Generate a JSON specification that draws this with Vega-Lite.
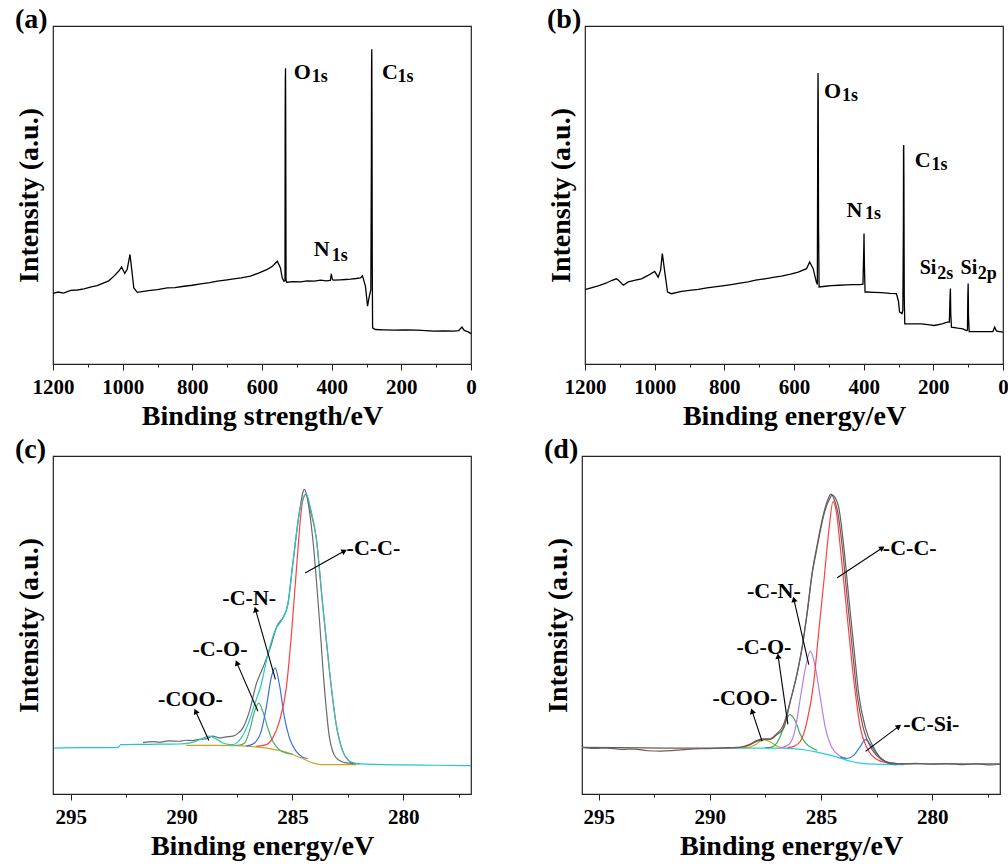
{
  "$schema": "https://vega.github.io/schema/vega-lite/v6.json",
  "background": "white",
  "padding": {"left": 14, "top": 5, "right": 2, "bottom": 2},
  "config": {
    "font": "Liberation Serif",
    "view": {"stroke": "#222", "strokeWidth": 1.2},
    "style": {
      "guide-label": {"font": "Liberation Serif", "fontWeight": "bold"},
      "guide-title": {"font": "Liberation Serif", "fontWeight": "bold"},
      "group-title": {"font": "Liberation Serif", "fontWeight": "bold"}
    },
    "axis": {
      "grid": false, "domain": false,
      "labelFont": "Liberation Serif", "labelFontWeight": "bold", "labelFontSize": 21, "labelColor": "black",
      "titleFont": "Liberation Serif", "titleFontWeight": "bold", "titleFontSize": 28, "titleColor": "black",
      "tickColor": "#222", "tickWidth": 1, "labelFlush": false, "labelOverlap": false, "labelPadding": 6, "titlePadding": 5
    },
    "title": {"font": "Liberation Serif", "fontWeight": "bold", "fontSize": 28, "anchor": "start", "frame": "bounds", "color": "black", "offset": -8}
  },
  "datasets": {
    "surveyA": [
      {"eV": 1200, "i": 20.9}, {"eV": 1185, "i": 21.3}, {"eV": 1170, "i": 21.0}, {"eV": 1149, "i": 21.8}, {"eV": 1130, "i": 21.9},
      {"eV": 1111, "i": 22.2}, {"eV": 1090, "i": 22.8}, {"eV": 1073, "i": 23.2}, {"eV": 1054, "i": 24.0}, {"eV": 1040, "i": 24.6},
      {"eV": 1025, "i": 26.0}, {"eV": 1011, "i": 27.5}, {"eV": 1003, "i": 28.7}, {"eV": 994, "i": 26.8}, {"eV": 987, "i": 28.0},
      {"eV": 979, "i": 32.4}, {"eV": 974, "i": 28.0}, {"eV": 968, "i": 22.5}, {"eV": 958, "i": 21.2}, {"eV": 940, "i": 21.5},
      {"eV": 920, "i": 21.8}, {"eV": 900, "i": 22.0}, {"eV": 872, "i": 22.5}, {"eV": 850, "i": 22.6}, {"eV": 824, "i": 23.0},
      {"eV": 800, "i": 23.3}, {"eV": 776, "i": 23.7}, {"eV": 750, "i": 24.1}, {"eV": 728, "i": 24.5}, {"eV": 700, "i": 24.9},
      {"eV": 681, "i": 25.2}, {"eV": 660, "i": 25.5}, {"eV": 633, "i": 26.0}, {"eV": 610, "i": 26.9}, {"eV": 585, "i": 28.0},
      {"eV": 570, "i": 28.9}, {"eV": 556, "i": 30.4}, {"eV": 547, "i": 28.4}, {"eV": 542, "i": 25.5}, {"eV": 537, "i": 24.5},
      {"eV": 534, "i": 24.6}, {"eV": 533.5, "i": 70}, {"eV": 533, "i": 84}, {"eV": 532.5, "i": 87.5}, {"eV": 532, "i": 75},
      {"eV": 531, "i": 24.8}, {"eV": 529, "i": 24.2}, {"eV": 510, "i": 24.4}, {"eV": 489, "i": 24.3}, {"eV": 470, "i": 24.6},
      {"eV": 450, "i": 24.5}, {"eV": 432, "i": 24.8}, {"eV": 415, "i": 24.6}, {"eV": 404, "i": 24.7}, {"eV": 401, "i": 26.7},
      {"eV": 398, "i": 25.0}, {"eV": 395, "i": 24.8}, {"eV": 375, "i": 24.9}, {"eV": 360, "i": 25.0}, {"eV": 346, "i": 25.1},
      {"eV": 330, "i": 25.3}, {"eV": 317, "i": 25.5}, {"eV": 312, "i": 26.1}, {"eV": 309, "i": 25.2}, {"eV": 303, "i": 23.0},
      {"eV": 297, "i": 17.1}, {"eV": 292, "i": 20.0}, {"eV": 287.5, "i": 22}, {"eV": 286, "i": 60}, {"eV": 285.5, "i": 86.7},
      {"eV": 284.8, "i": 93.1}, {"eV": 284.2, "i": 70}, {"eV": 283.5, "i": 30}, {"eV": 282.5, "i": 10.7}, {"eV": 275, "i": 10.2},
      {"eV": 250, "i": 10.1}, {"eV": 220, "i": 10.0}, {"eV": 190, "i": 10.1}, {"eV": 155, "i": 10.0}, {"eV": 130, "i": 9.9},
      {"eV": 107, "i": 9.7}, {"eV": 80, "i": 9.8}, {"eV": 50, "i": 9.7}, {"eV": 35, "i": 9.9}, {"eV": 26, "i": 10.9},
      {"eV": 20, "i": 10.0}, {"eV": 16, "i": 9.8}, {"eV": 8, "i": 9.5}, {"eV": 0, "i": 9.0}
    ],
    "surveyB": [
      {"eV": 1200, "i": 22.0}, {"eV": 1180, "i": 22.6}, {"eV": 1162, "i": 23.1}, {"eV": 1140, "i": 23.9}, {"eV": 1124, "i": 24.7},
      {"eV": 1110, "i": 25.2}, {"eV": 1103, "i": 24.7}, {"eV": 1090, "i": 23.3}, {"eV": 1076, "i": 24.3}, {"eV": 1055, "i": 24.8},
      {"eV": 1038, "i": 25.2}, {"eV": 1019, "i": 26.2}, {"eV": 1000, "i": 27.4}, {"eV": 990, "i": 25.7}, {"eV": 983, "i": 27.7},
      {"eV": 978, "i": 32.7}, {"eV": 971, "i": 27.2}, {"eV": 963, "i": 21.3}, {"eV": 952, "i": 20.8}, {"eV": 923, "i": 21.5},
      {"eV": 900, "i": 21.8}, {"eV": 875, "i": 22.1}, {"eV": 850, "i": 22.5}, {"eV": 828, "i": 22.8}, {"eV": 800, "i": 23.2},
      {"eV": 780, "i": 23.5}, {"eV": 755, "i": 23.9}, {"eV": 732, "i": 24.3}, {"eV": 710, "i": 24.8}, {"eV": 684, "i": 25.2},
      {"eV": 660, "i": 25.6}, {"eV": 636, "i": 26.0}, {"eV": 610, "i": 26.6}, {"eV": 588, "i": 27.2}, {"eV": 564, "i": 28.2},
      {"eV": 555, "i": 30.2}, {"eV": 545, "i": 28.2}, {"eV": 536, "i": 24.3}, {"eV": 533, "i": 23.5}, {"eV": 532, "i": 60},
      {"eV": 531.5, "i": 77.7}, {"eV": 531, "i": 86.1}, {"eV": 530.5, "i": 77.7}, {"eV": 529.5, "i": 40}, {"eV": 528, "i": 22.8},
      {"eV": 510, "i": 23.0}, {"eV": 493, "i": 23.2}, {"eV": 470, "i": 23.3}, {"eV": 450, "i": 23.4}, {"eV": 430, "i": 23.5},
      {"eV": 412, "i": 23.5}, {"eV": 402, "i": 23.6}, {"eV": 399.5, "i": 35}, {"eV": 399, "i": 38.6}, {"eV": 398, "i": 30},
      {"eV": 396, "i": 21.3}, {"eV": 392, "i": 21.3}, {"eV": 370, "i": 21.2}, {"eV": 349, "i": 21.1}, {"eV": 325, "i": 20.9},
      {"eV": 306, "i": 20.8}, {"eV": 300, "i": 18.5}, {"eV": 297, "i": 15.4}, {"eV": 290, "i": 14.9}, {"eV": 287.5, "i": 16},
      {"eV": 286, "i": 40}, {"eV": 285.5, "i": 63.3}, {"eV": 285, "i": 64.8}, {"eV": 284.5, "i": 55}, {"eV": 283.5, "i": 20},
      {"eV": 282, "i": 11.9}, {"eV": 260, "i": 11.9}, {"eV": 234, "i": 11.9}, {"eV": 210, "i": 11.6}, {"eV": 197, "i": 11.4},
      {"eV": 175, "i": 11.9}, {"eV": 160, "i": 12.4}, {"eV": 154, "i": 12.4}, {"eV": 152, "i": 20}, {"eV": 151, "i": 22.3},
      {"eV": 150, "i": 15}, {"eV": 148, "i": 10.9}, {"eV": 130, "i": 10.6}, {"eV": 115, "i": 10.4}, {"eV": 105, "i": 9.9},
      {"eV": 102, "i": 10.0}, {"eV": 101, "i": 20}, {"eV": 100, "i": 23.8}, {"eV": 99, "i": 14}, {"eV": 97, "i": 9.6},
      {"eV": 80, "i": 9.6}, {"eV": 50, "i": 9.6}, {"eV": 29, "i": 9.6}, {"eV": 24, "i": 10.9}, {"eV": 19, "i": 9.8},
      {"eV": 10, "i": 9.6}, {"eV": 0, "i": 9.4}
    ],
    "peaksA": [
      {"t": "O", "eV": 508.8, "i": 84.2}, {"t": "C", "eV": 255.3, "i": 84.2}, {"t": "N", "eV": 451.5, "i": 31.9}
    ],
    "subsA": [
      {"t": "1s", "eV": 457.4, "i": 83.4}, {"t": "1s", "eV": 210.7, "i": 83.4}, {"t": "1s", "eV": 400.0, "i": 30.4}
    ],
    "peaksB": [
      {"t": "O", "eV": 513.6, "i": 78.7}, {"t": "C", "eV": 253.6, "i": 58.4}, {"t": "N", "eV": 449.6, "i": 43.6}
    ],
    "siB": [
      {"t": "Si", "eV": 239.3, "i": 26.7}, {"t": "Si", "eV": 121.7, "i": 26.7}
    ],
    "subsB": [
      {"t": "1s", "eV": 462.1, "i": 77.9}, {"t": "1s", "eV": 205.3, "i": 57.4}, {"t": "1s", "eV": 396.1, "i": 42.8},
      {"t": "2s", "eV": 189.0, "i": 25.2}, {"t": "2p", "eV": 72.5, "i": 25.2}
    ],
    "fitC": [
      {"s": "bg", "eV": 289.8, "i": 14.4}, {"s": "bg", "eV": 288.5, "i": 14.4}, {"s": "bg", "eV": 287.5, "i": 14.3}, {"s": "bg", "eV": 286.94, "i": 14.1},
      {"s": "bg", "eV": 286.18, "i": 13.6}, {"s": "bg", "eV": 285.59, "i": 12.9}, {"s": "bg", "eV": 284.99, "i": 11.7}, {"s": "bg", "eV": 284.54, "i": 10.5},
      {"s": "bg", "eV": 284.09, "i": 9.2}, {"s": "bg", "eV": 283.71, "i": 8.7}, {"s": "bg", "eV": 282.13, "i": 8.7},
      {"s": "CO", "eV": 287.6, "i": 14.4}, {"s": "CO", "eV": 287.39, "i": 14.5}, {"s": "CO", "eV": 287.16, "i": 15.1}, {"s": "CO", "eV": 286.94, "i": 18.6},
      {"s": "CO", "eV": 286.71, "i": 24.5}, {"s": "CO", "eV": 286.52, "i": 26.9}, {"s": "CO", "eV": 286.34, "i": 24.5}, {"s": "CO", "eV": 286.11, "i": 19.5},
      {"s": "CO", "eV": 285.89, "i": 15.6}, {"s": "CO", "eV": 285.59, "i": 13.1}, {"s": "CO", "eV": 285.28, "i": 12.1}, {"s": "CO", "eV": 285.0, "i": 11.8},
      {"s": "CN", "eV": 287.1, "i": 14.2}, {"s": "CN", "eV": 286.94, "i": 14.4}, {"s": "CN", "eV": 286.71, "i": 15.1}, {"s": "CN", "eV": 286.41, "i": 18.6},
      {"s": "CN", "eV": 286.16, "i": 26.5}, {"s": "CN", "eV": 285.96, "i": 34.4}, {"s": "CN", "eV": 285.78, "i": 37.3}, {"s": "CN", "eV": 285.59, "i": 32.4},
      {"s": "CN", "eV": 285.36, "i": 22.5}, {"s": "CN", "eV": 285.14, "i": 16.6}, {"s": "CN", "eV": 284.83, "i": 12.6}, {"s": "CN", "eV": 284.54, "i": 10.9},
      {"s": "CN", "eV": 284.31, "i": 10.5},
      {"s": "CC", "eV": 286.64, "i": 14.1}, {"s": "CC", "eV": 286.18, "i": 14.6}, {"s": "CC", "eV": 285.89, "i": 16.6}, {"s": "CC", "eV": 285.59, "i": 21.5},
      {"s": "CC", "eV": 285.28, "i": 31.4}, {"s": "CC", "eV": 285.06, "i": 46.2}, {"s": "CC", "eV": 284.83, "i": 65.9}, {"s": "CC", "eV": 284.54, "i": 86.7},
      {"s": "CC", "eV": 284.38, "i": 88.7}, {"s": "CC", "eV": 284.2, "i": 84.0}, {"s": "CC", "eV": 283.93, "i": 75.8}, {"s": "CC", "eV": 283.64, "i": 56.1},
      {"s": "CC", "eV": 283.33, "i": 36.3}, {"s": "CC", "eV": 283.03, "i": 20.6}, {"s": "CC", "eV": 282.73, "i": 12.6}, {"s": "CC", "eV": 282.43, "i": 9.7},
      {"s": "CC", "eV": 282.28, "i": 8.9},
      {"s": "data", "eV": 291.74, "i": 15.2}, {"s": "data", "eV": 291.3, "i": 15.5}, {"s": "data", "eV": 291.0, "i": 15.3}, {"s": "data", "eV": 290.6, "i": 15.7},
      {"s": "data", "eV": 290.1, "i": 15.6}, {"s": "data", "eV": 289.8, "i": 15.9}, {"s": "data", "eV": 289.49, "i": 15.8}, {"s": "data", "eV": 289.2, "i": 16.2},
      {"s": "data", "eV": 288.9, "i": 16.3}, {"s": "data", "eV": 288.59, "i": 17.1}, {"s": "data", "eV": 288.29, "i": 16.6}, {"s": "data", "eV": 288.0, "i": 16.9},
      {"s": "data", "eV": 287.69, "i": 17.1}, {"s": "data", "eV": 287.45, "i": 18.0}, {"s": "data", "eV": 287.24, "i": 19.5}, {"s": "data", "eV": 286.94, "i": 24.5},
      {"s": "data", "eV": 286.64, "i": 32.4}, {"s": "data", "eV": 286.34, "i": 37.3}, {"s": "data", "eV": 286.04, "i": 42.5}, {"s": "data", "eV": 285.66, "i": 50.2},
      {"s": "data", "eV": 285.44, "i": 52.1}, {"s": "data", "eV": 285.21, "i": 56.1}, {"s": "data", "eV": 284.99, "i": 67.9}, {"s": "data", "eV": 284.68, "i": 83.7},
      {"s": "data", "eV": 284.52, "i": 89.5}, {"s": "data", "eV": 284.46, "i": 90.1}, {"s": "data", "eV": 284.35, "i": 88.0}, {"s": "data", "eV": 284.09, "i": 75.8},
      {"s": "data", "eV": 283.78, "i": 51.1}, {"s": "data", "eV": 283.56, "i": 31.4}, {"s": "data", "eV": 283.33, "i": 16.6}, {"s": "data", "eV": 283.03, "i": 10.7},
      {"s": "data", "eV": 282.58, "i": 9.2}, {"s": "data", "eV": 281.98, "i": 8.9},
      {"s": "fit", "eV": 295.75, "i": 13.6}, {"s": "fit", "eV": 294.5, "i": 13.7}, {"s": "fit", "eV": 293.5, "i": 13.7}, {"s": "fit", "eV": 292.85, "i": 13.8},
      {"s": "fit", "eV": 292.75, "i": 14.6}, {"s": "fit", "eV": 291.5, "i": 14.7}, {"s": "fit", "eV": 290.09, "i": 14.8}, {"s": "fit", "eV": 289.6, "i": 15.1},
      {"s": "fit", "eV": 289.34, "i": 15.6}, {"s": "fit", "eV": 289.0, "i": 16.6}, {"s": "fit", "eV": 288.74, "i": 17.1}, {"s": "fit", "eV": 288.45, "i": 16.3},
      {"s": "fit", "eV": 288.14, "i": 15.1}, {"s": "fit", "eV": 287.9, "i": 14.7}, {"s": "fit", "eV": 287.69, "i": 14.6}, {"s": "fit", "eV": 287.5, "i": 15.2},
      {"s": "fit", "eV": 287.31, "i": 16.6}, {"s": "fit", "eV": 287.01, "i": 20.6}, {"s": "fit", "eV": 286.71, "i": 26.5}, {"s": "fit", "eV": 286.41, "i": 32.4},
      {"s": "fit", "eV": 286.11, "i": 41.3}, {"s": "fit", "eV": 285.73, "i": 49.2}, {"s": "fit", "eV": 285.51, "i": 51.1}, {"s": "fit", "eV": 285.21, "i": 56.1},
      {"s": "fit", "eV": 284.99, "i": 67.9}, {"s": "fit", "eV": 284.68, "i": 83.7}, {"s": "fit", "eV": 284.46, "i": 88.4}, {"s": "fit", "eV": 284.38, "i": 88.7},
      {"s": "fit", "eV": 284.2, "i": 85.0}, {"s": "fit", "eV": 283.93, "i": 75.8}, {"s": "fit", "eV": 283.64, "i": 56.1}, {"s": "fit", "eV": 283.33, "i": 36.3},
      {"s": "fit", "eV": 283.03, "i": 20.6}, {"s": "fit", "eV": 282.73, "i": 12.6}, {"s": "fit", "eV": 282.43, "i": 9.7}, {"s": "fit", "eV": 281.98, "i": 8.9},
      {"s": "fit", "eV": 280, "i": 8.6}, {"s": "fit", "eV": 278.5, "i": 8.5}, {"s": "fit", "eV": 276.95, "i": 8.4}
    ],
    "arrowsC": [
      {"label": "-C-C-", "eV": 284.43, "i": 65.4, "eV2": 282.66, "i2": 71.9},
      {"label": "-C-N-", "eV": 285.77, "i": 33.9, "eV2": 286.67, "i2": 54.6},
      {"label": "-C-O-", "eV": 286.56, "i": 24.5, "eV2": 287.51, "i2": 38.8},
      {"label": "-COO-", "eV": 288.77, "i": 15.8, "eV2": 289.37, "i2": 24.5}
    ],
    "labelsC": [
      {"label": "-C-C-", "eV": 281.35, "i": 72.7}, {"label": "-C-N-", "eV": 286.95, "i": 58.0},
      {"label": "-C-O-", "eV": 288.27, "i": 42.8}, {"label": "-COO-", "eV": 289.6, "i": 28.0}
    ],
    "fitD": [
      {"s": "bg", "eV": 288.92, "i": 13.6}, {"s": "bg", "eV": 288.0, "i": 13.6}, {"s": "bg", "eV": 286.67, "i": 13.6}, {"s": "bg", "eV": 285.77, "i": 13.1},
      {"s": "bg", "eV": 285.18, "i": 12.4}, {"s": "bg", "eV": 284.42, "i": 11.2}, {"s": "bg", "eV": 283.68, "i": 9.7}, {"s": "bg", "eV": 282.93, "i": 8.9},
      {"s": "bg", "eV": 281.58, "i": 8.7}, {"s": "bg", "eV": 281.27, "i": 8.7},
      {"s": "COO", "eV": 288.5, "i": 13.7}, {"s": "COO", "eV": 288.25, "i": 13.8}, {"s": "COO", "eV": 287.95, "i": 14.6}, {"s": "COO", "eV": 287.57, "i": 16.1},
      {"s": "COO", "eV": 287.2, "i": 15.1}, {"s": "COO", "eV": 286.9, "i": 13.9}, {"s": "COO", "eV": 286.6, "i": 13.6},
      {"s": "CO", "eV": 287.5, "i": 13.7}, {"s": "CO", "eV": 287.28, "i": 13.8}, {"s": "CO", "eV": 287.05, "i": 14.6}, {"s": "CO", "eV": 286.83, "i": 17.1},
      {"s": "CO", "eV": 286.6, "i": 21.5}, {"s": "CO", "eV": 286.4, "i": 23.5}, {"s": "CO", "eV": 286.15, "i": 21.5}, {"s": "CO", "eV": 285.93, "i": 17.6},
      {"s": "CO", "eV": 285.7, "i": 15.1}, {"s": "CO", "eV": 285.4, "i": 13.6}, {"s": "CO", "eV": 285.18, "i": 12.9},
      {"s": "CN", "eV": 286.9, "i": 13.6}, {"s": "CN", "eV": 286.6, "i": 14.1}, {"s": "CN", "eV": 286.38, "i": 15.1}, {"s": "CN", "eV": 286.15, "i": 19.5},
      {"s": "CN", "eV": 285.93, "i": 28.4}, {"s": "CN", "eV": 285.7, "i": 37.3}, {"s": "CN", "eV": 285.48, "i": 42.3}, {"s": "CN", "eV": 285.25, "i": 37.3},
      {"s": "CN", "eV": 285.03, "i": 28.4}, {"s": "CN", "eV": 284.8, "i": 19.5}, {"s": "CN", "eV": 284.5, "i": 13.6}, {"s": "CN", "eV": 284.13, "i": 11.2},
      {"s": "CN", "eV": 283.9, "i": 10.7},
      {"s": "CC", "eV": 286.5, "i": 13.7}, {"s": "CC", "eV": 286.22, "i": 14.1}, {"s": "CC", "eV": 285.93, "i": 15.6}, {"s": "CC", "eV": 285.63, "i": 21.5},
      {"s": "CC", "eV": 285.32, "i": 33.4}, {"s": "CC", "eV": 285.1, "i": 48.2}, {"s": "CC", "eV": 284.87, "i": 63.0}, {"s": "CC", "eV": 284.65, "i": 77.8},
      {"s": "CC", "eV": 284.46, "i": 86.5}, {"s": "CC", "eV": 284.3, "i": 83.0}, {"s": "CC", "eV": 284.13, "i": 72.8}, {"s": "CC", "eV": 283.83, "i": 53.1},
      {"s": "CC", "eV": 283.52, "i": 33.4}, {"s": "CC", "eV": 283.23, "i": 19.5}, {"s": "CC", "eV": 282.93, "i": 13.6}, {"s": "CC", "eV": 282.48, "i": 10.2},
      {"s": "CC", "eV": 282.03, "i": 9.2}, {"s": "CC", "eV": 281.6, "i": 8.8},
      {"s": "CSi", "eV": 284.13, "i": 10.9}, {"s": "CSi", "eV": 283.83, "i": 10.5}, {"s": "CSi", "eV": 283.52, "i": 11.5}, {"s": "CSi", "eV": 283.23, "i": 14.1},
      {"s": "CSi", "eV": 283.0, "i": 16.1}, {"s": "CSi", "eV": 282.78, "i": 14.6}, {"s": "CSi", "eV": 282.48, "i": 11.7}, {"s": "CSi", "eV": 282.17, "i": 9.9},
      {"s": "CSi", "eV": 281.88, "i": 8.9}, {"s": "CSi", "eV": 281.6, "i": 8.7},
      {"s": "data", "eV": 295.75, "i": 13.8}, {"s": "data", "eV": 295.2, "i": 13.5}, {"s": "data", "eV": 294.6, "i": 13.6}, {"s": "data", "eV": 294.0, "i": 13.2},
      {"s": "data", "eV": 293.4, "i": 13.3}, {"s": "data", "eV": 292.8, "i": 12.8}, {"s": "data", "eV": 292.2, "i": 12.7}, {"s": "data", "eV": 291.6, "i": 12.9},
      {"s": "data", "eV": 291.0, "i": 13.2}, {"s": "data", "eV": 290.4, "i": 13.4}, {"s": "data", "eV": 289.8, "i": 13.5}, {"s": "data", "eV": 289.2, "i": 13.7},
      {"s": "data", "eV": 288.6, "i": 13.9}, {"s": "data", "eV": 288.2, "i": 14.7}, {"s": "data", "eV": 287.9, "i": 15.8}, {"s": "data", "eV": 287.6, "i": 16.3},
      {"s": "data", "eV": 287.3, "i": 16.3}, {"s": "data", "eV": 287.0, "i": 17.8}, {"s": "data", "eV": 286.7, "i": 20.3}, {"s": "data", "eV": 286.4, "i": 27.0},
      {"s": "data", "eV": 286.1, "i": 35.0}, {"s": "data", "eV": 285.85, "i": 43.5}, {"s": "data", "eV": 285.63, "i": 53.5}, {"s": "data", "eV": 285.4, "i": 65.5},
      {"s": "data", "eV": 285.18, "i": 73.5}, {"s": "data", "eV": 284.9, "i": 82.5}, {"s": "data", "eV": 284.7, "i": 87.0}, {"s": "data", "eV": 284.55, "i": 88.7},
      {"s": "data", "eV": 284.4, "i": 87.0}, {"s": "data", "eV": 284.25, "i": 83.5}, {"s": "data", "eV": 284.05, "i": 73.5}, {"s": "data", "eV": 283.83, "i": 58.5},
      {"s": "data", "eV": 283.6, "i": 43.5}, {"s": "data", "eV": 283.38, "i": 29.5}, {"s": "data", "eV": 283.1, "i": 19.5}, {"s": "data", "eV": 282.7, "i": 13.1},
      {"s": "data", "eV": 282.3, "i": 10.3}, {"s": "data", "eV": 281.9, "i": 9.2}, {"s": "data", "eV": 281.3, "i": 8.9}, {"s": "data", "eV": 280.7, "i": 9.1},
      {"s": "data", "eV": 280.0, "i": 8.8}, {"s": "data", "eV": 279.3, "i": 9.0}, {"s": "data", "eV": 278.6, "i": 8.7}, {"s": "data", "eV": 278.0, "i": 8.9},
      {"s": "data", "eV": 277.4, "i": 8.6}, {"s": "data", "eV": 276.95, "i": 8.8},
      {"s": "fit", "eV": 295.75, "i": 13.8}, {"s": "fit", "eV": 294, "i": 13.7}, {"s": "fit", "eV": 292, "i": 13.6}, {"s": "fit", "eV": 290, "i": 13.6},
      {"s": "fit", "eV": 289, "i": 13.6}, {"s": "fit", "eV": 288.5, "i": 13.9}, {"s": "fit", "eV": 288.18, "i": 14.6}, {"s": "fit", "eV": 287.88, "i": 15.6},
      {"s": "fit", "eV": 287.57, "i": 16.1}, {"s": "fit", "eV": 287.28, "i": 16.2}, {"s": "fit", "eV": 286.98, "i": 17.6}, {"s": "fit", "eV": 286.67, "i": 19.5},
      {"s": "fit", "eV": 286.38, "i": 27.5}, {"s": "fit", "eV": 286.08, "i": 35.4}, {"s": "fit", "eV": 285.85, "i": 43.2}, {"s": "fit", "eV": 285.63, "i": 53.1},
      {"s": "fit", "eV": 285.4, "i": 65.0}, {"s": "fit", "eV": 285.18, "i": 72.8}, {"s": "fit", "eV": 284.87, "i": 82.7}, {"s": "fit", "eV": 284.6, "i": 87.5},
      {"s": "fit", "eV": 284.5, "i": 88.5}, {"s": "fit", "eV": 284.35, "i": 87.5}, {"s": "fit", "eV": 284.2, "i": 84.7}, {"s": "fit", "eV": 283.97, "i": 72.8},
      {"s": "fit", "eV": 283.75, "i": 58.0}, {"s": "fit", "eV": 283.52, "i": 43.2}, {"s": "fit", "eV": 283.3, "i": 29.4}, {"s": "fit", "eV": 283.0, "i": 19.5},
      {"s": "fit", "eV": 282.62, "i": 13.6}, {"s": "fit", "eV": 282.25, "i": 10.2}, {"s": "fit", "eV": 281.88, "i": 9.2}, {"s": "fit", "eV": 281.27, "i": 8.9},
      {"s": "fit", "eV": 276.95, "i": 8.9}
    ],
    "arrowsD": [
      {"label": "-C-C-", "eV": 284.27, "i": 64.0, "eV2": 282.25, "i2": 72.8},
      {"label": "-C-N-", "eV": 285.55, "i": 38.3, "eV2": 286.22, "i2": 57.6},
      {"label": "-C-O-", "eV": 286.49, "i": 20.6, "eV2": 286.93, "i2": 40.8},
      {"label": "-COO-", "eV": 287.65, "i": 15.6, "eV2": 288.1, "i2": 24.5},
      {"label": "-C-Si-", "eV": 283.0, "i": 12.6, "eV2": 281.5, "i2": 20.0}
    ],
    "labelsD": [
      {"label": "-C-C-", "eV": 281.01, "i": 72.8}, {"label": "-C-N-", "eV": 287.12, "i": 60.2},
      {"label": "-C-O-", "eV": 287.57, "i": 43.4}, {"label": "-COO-", "eV": 288.42, "i": 28.4},
      {"label": "-C-Si-", "eV": 280.04, "i": 20.6}
    ]
  },
  "spacing": 4,
  "resolve": {"scale": {"color": "independent"}},
  "vconcat": [
    {
      "spacing": 69,
      "resolve": {"scale": {"color": "independent"}},
      "hconcat": [
        {
          "width": 418, "height": 338,
          "title": {"text": "(a)", "font": "Liberation Serif"},
          "encoding": {
            "x": {"field": "eV", "type": "quantitative",
              "scale": {"domain": [0, 1200], "reverse": true, "nice": false, "zero": false},
              "axis": {"title": "Binding strength/eV", "format": "d", "labelFont": "Liberation Serif", "titleFont": "Liberation Serif",
                "values": [0, 100, 200, 300, 400, 500, 600, 700, 800, 900, 1000, 1100, 1200],
                "labelExpr": "datum.value % 200 === 0 ? datum.label : ''",
                "tickSize": {"condition": {"test": "datum.value % 200 === 0", "value": 6}, "value": 3}}},
            "y": {"field": "i", "type": "quantitative",
              "scale": {"domain": [0, 100], "nice": false, "zero": false},
              "axis": {"title": "Intensity (a.u.)", "titleFont": "Liberation Serif", "labels": false, "ticks": false, "titlePadding": 10}}
          },
          "layer": [
            {"data": {"name": "surveyA"}, "mark": {"type": "line", "color": "black", "strokeWidth": 1.3}},
            {"data": {"name": "peaksA"}, "mark": {"type": "text", "font": "Liberation Serif", "fontWeight": "bold", "fontSize": 22, "align": "left", "baseline": "alphabetic", "color": "black"}, "encoding": {"text": {"field": "t"}}},
            {"data": {"name": "subsA"}, "mark": {"type": "text", "font": "Liberation Serif", "fontWeight": "bold", "fontSize": 18, "align": "left", "baseline": "alphabetic", "color": "black"}, "encoding": {"text": {"field": "t"}}}
          ]
        },
        {
          "width": 418, "height": 338,
          "title": {"text": "(b)", "font": "Liberation Serif"},
          "encoding": {
            "x": {"field": "eV", "type": "quantitative",
              "scale": {"domain": [0, 1200], "reverse": true, "nice": false, "zero": false},
              "axis": {"title": "Binding energy/eV", "format": "d", "labelFont": "Liberation Serif", "titleFont": "Liberation Serif",
                "values": [0, 100, 200, 300, 400, 500, 600, 700, 800, 900, 1000, 1100, 1200],
                "labelExpr": "datum.value % 200 === 0 ? datum.label : ''",
                "tickSize": {"condition": {"test": "datum.value % 200 === 0", "value": 6}, "value": 3}}},
            "y": {"field": "i", "type": "quantitative",
              "scale": {"domain": [0, 100], "nice": false, "zero": false},
              "axis": {"title": "Intensity (a.u.)", "titleFont": "Liberation Serif", "labels": false, "ticks": false, "titlePadding": 10}}
          },
          "layer": [
            {"data": {"name": "surveyB"}, "mark": {"type": "line", "color": "black", "strokeWidth": 1.3}},
            {"data": {"name": "peaksB"}, "mark": {"type": "text", "font": "Liberation Serif", "fontWeight": "bold", "fontSize": 22, "align": "left", "baseline": "alphabetic", "color": "black"}, "encoding": {"text": {"field": "t"}}},
            {"data": {"name": "siB"}, "mark": {"type": "text", "font": "Liberation Serif", "fontWeight": "bold", "fontSize": 20, "align": "left", "baseline": "alphabetic", "color": "black"}, "encoding": {"text": {"field": "t"}}},
            {"data": {"name": "subsB"}, "mark": {"type": "text", "font": "Liberation Serif", "fontWeight": "bold", "fontSize": 18, "align": "left", "baseline": "alphabetic", "color": "black"}, "encoding": {"text": {"field": "t"}}}
          ]
        }
      ]
    },
    {
      "spacing": 69,
      "resolve": {"scale": {"color": "independent"}},
      "hconcat": [
        {
          "width": 418, "height": 338,
          "title": {"text": "(c)", "font": "Liberation Serif"},
          "encoding": {
            "x": {"field": "eV", "type": "quantitative",
              "scale": {"domain": [276.95, 295.8], "reverse": true, "nice": false, "zero": false},
              "axis": {"title": "Binding energy/eV", "format": "d", "labelFont": "Liberation Serif", "titleFont": "Liberation Serif",
                "values": [277.5, 280, 282.5, 285, 287.5, 290, 292.5, 295],
                "labelExpr": "datum.value % 5 === 0 ? datum.label : ''",
                "tickSize": {"condition": {"test": "datum.value % 5 === 0", "value": 6}, "value": 3}}},
            "y": {"field": "i", "type": "quantitative",
              "scale": {"domain": [0, 100], "nice": false, "zero": false},
              "axis": {"title": "Intensity (a.u.)", "titleFont": "Liberation Serif", "labels": false, "ticks": false, "titlePadding": 10}}
          },
          "layer": [
            {"data": {"name": "fitC"}, "mark": {"type": "line", "strokeWidth": 1.2, "interpolate": "monotone"},
              "encoding": {"color": {"field": "s", "type": "nominal", "legend": null,
                "scale": {"domain": ["bg", "CO", "CN", "CC", "data", "fit"], "range": ["#d4a020", "#4caf6e", "#3a6fe0", "#ff4040", "#6a6a6a", "#22c8c8"]}}}},
            {"data": {"name": "arrowsC"}, "mark": {"type": "rule", "color": "black", "strokeWidth": 1.1},
              "encoding": {"x2": {"field": "eV2"}, "y2": {"field": "i2"}}},
            {"data": {"name": "arrowsC"}, "transform": [{"filter": "datum.label === '-C-C-'"}],
              "mark": {"type": "point", "shape": "triangle-up", "filled": true, "color": "black", "opacity": 1, "size": 40, "angle": 61},
              "encoding": {"x": {"field": "eV2", "type": "quantitative"}, "y": {"field": "i2", "type": "quantitative"}}},
            {"data": {"name": "arrowsC"}, "transform": [{"filter": "datum.label === '-C-N-'"}],
              "mark": {"type": "point", "shape": "triangle-up", "filled": true, "color": "black", "opacity": 1, "size": 40, "angle": -16},
              "encoding": {"x": {"field": "eV2", "type": "quantitative"}, "y": {"field": "i2", "type": "quantitative"}}},
            {"data": {"name": "arrowsC"}, "transform": [{"filter": "datum.label === '-C-O-'"}],
              "mark": {"type": "point", "shape": "triangle-up", "filled": true, "color": "black", "opacity": 1, "size": 40, "angle": -23},
              "encoding": {"x": {"field": "eV2", "type": "quantitative"}, "y": {"field": "i2", "type": "quantitative"}}},
            {"data": {"name": "arrowsC"}, "transform": [{"filter": "datum.label === '-COO-'"}],
              "mark": {"type": "point", "shape": "triangle-up", "filled": true, "color": "black", "opacity": 1, "size": 40, "angle": -24},
              "encoding": {"x": {"field": "eV2", "type": "quantitative"}, "y": {"field": "i2", "type": "quantitative"}}},
            {"data": {"name": "labelsC"}, "mark": {"type": "text", "font": "Liberation Serif", "fontWeight": "bold", "fontSize": 22, "align": "center", "baseline": "middle", "color": "black"},
              "encoding": {"text": {"field": "label"}}}
          ]
        },
        {
          "width": 418, "height": 338,
          "title": {"text": "(d)", "font": "Liberation Serif"},
          "encoding": {
            "x": {"field": "eV", "type": "quantitative",
              "scale": {"domain": [276.95, 295.75], "reverse": true, "nice": false, "zero": false},
              "axis": {"title": "Binding energy/eV", "format": "d", "labelFont": "Liberation Serif", "titleFont": "Liberation Serif",
                "values": [277.5, 280, 282.5, 285, 287.5, 290, 292.5, 295],
                "labelExpr": "datum.value % 5 === 0 ? datum.label : ''",
                "tickSize": {"condition": {"test": "datum.value % 5 === 0", "value": 6}, "value": 3}}},
            "y": {"field": "i", "type": "quantitative",
              "scale": {"domain": [0, 100], "nice": false, "zero": false},
              "axis": {"title": "Intensity (a.u.)", "titleFont": "Liberation Serif", "labels": false, "ticks": false, "titlePadding": 10}}
          },
          "layer": [
            {"data": {"name": "fitD"}, "mark": {"type": "line", "strokeWidth": 1.2, "interpolate": "monotone"},
              "encoding": {"color": {"field": "s", "type": "nominal", "legend": null,
                "scale": {"domain": ["bg", "COO", "CO", "CN", "CC", "CSi", "data", "fit"], "range": ["#22d0d8", "#d4a020", "#3caa5a", "#b57df0", "#ff4040", "#3a7ae0", "#7a5656", "#606060"]}}}},
            {"data": {"name": "arrowsD"}, "mark": {"type": "rule", "color": "black", "strokeWidth": 1.1},
              "encoding": {"x2": {"field": "eV2"}, "y2": {"field": "i2"}}},
            {"data": {"name": "arrowsD"}, "transform": [{"filter": "datum.label === '-C-C-'"}],
              "mark": {"type": "point", "shape": "triangle-up", "filled": true, "color": "black", "opacity": 1, "size": 40, "angle": 56},
              "encoding": {"x": {"field": "eV2", "type": "quantitative"}, "y": {"field": "i2", "type": "quantitative"}}},
            {"data": {"name": "arrowsD"}, "transform": [{"filter": "datum.label === '-C-N-'"}],
              "mark": {"type": "point", "shape": "triangle-up", "filled": true, "color": "black", "opacity": 1, "size": 40, "angle": -13},
              "encoding": {"x": {"field": "eV2", "type": "quantitative"}, "y": {"field": "i2", "type": "quantitative"}}},
            {"data": {"name": "arrowsD"}, "transform": [{"filter": "datum.label === '-C-O-'"}],
              "mark": {"type": "point", "shape": "triangle-up", "filled": true, "color": "black", "opacity": 1, "size": 40, "angle": -8},
              "encoding": {"x": {"field": "eV2", "type": "quantitative"}, "y": {"field": "i2", "type": "quantitative"}}},
            {"data": {"name": "arrowsD"}, "transform": [{"filter": "datum.label === '-COO-'"}],
              "mark": {"type": "point", "shape": "triangle-up", "filled": true, "color": "black", "opacity": 1, "size": 40, "angle": -18},
              "encoding": {"x": {"field": "eV2", "type": "quantitative"}, "y": {"field": "i2", "type": "quantitative"}}},
            {"data": {"name": "arrowsD"}, "transform": [{"filter": "datum.label === '-C-Si-'"}],
              "mark": {"type": "point", "shape": "triangle-up", "filled": true, "color": "black", "opacity": 1, "size": 40, "angle": 53},
              "encoding": {"x": {"field": "eV2", "type": "quantitative"}, "y": {"field": "i2", "type": "quantitative"}}},
            {"data": {"name": "labelsD"}, "mark": {"type": "text", "font": "Liberation Serif", "fontWeight": "bold", "fontSize": 22, "align": "center", "baseline": "middle", "color": "black"},
              "encoding": {"text": {"field": "label"}}}
          ]
        }
      ]
    }
  ]
}
